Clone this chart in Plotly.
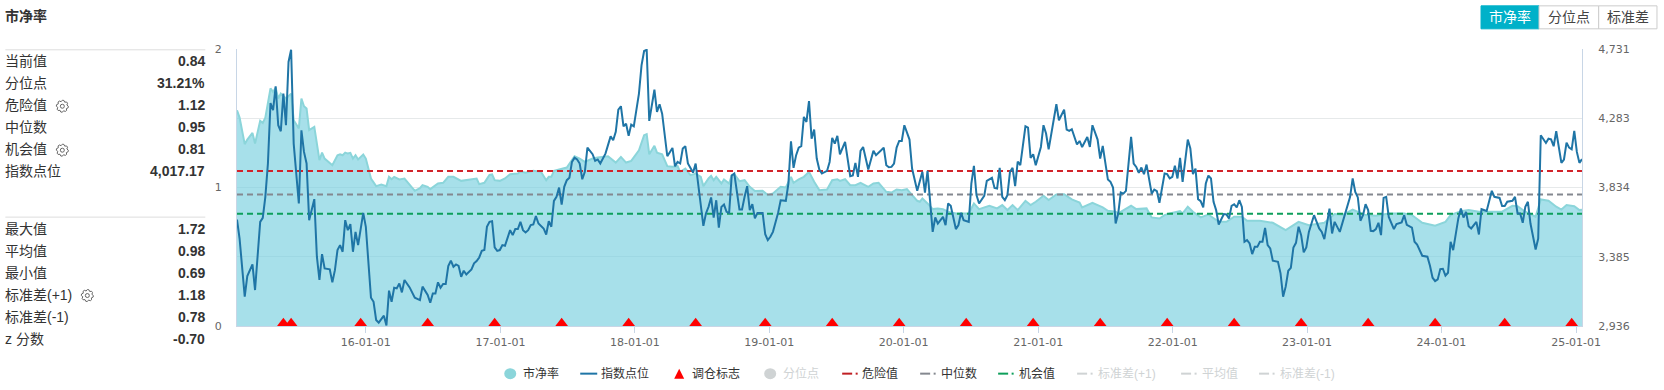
from datetime import date, timedelta
import math
import plotly.graph_objects as go

start_date = date(2015, 1, 16)
end_date = date(2025, 1, 17)

pb_weeks = [0,1,3,4,6,7,9,10,11,13,14,15,16,17,19,21,22,24,25,26,27,28,30,32,33,34,37,39,40,41,42,43,44,45,46,47,49,50,52,54,56,58,59,60,61,63,65,67,69,71,72,74,75,78,80,82,84,87,91,93,94,96,98,99,100,102,104,106,109,110,112,115,118,120,121,122,123,125,128,131,133,135,138,140,144,147,149,151,153,156,158,159,160,162,163,165,167,169,171,172,174,176,178,180,
181,183,184,185,186,188,189,191,192,193,195,197,199,201,204,206,208,211,213,215,216,218,220,222,224,226,229,231,233,234,236,238,240,242,245,247,249,252,254,256,258,260,264,265,266,268,270,272,274,276,279,284,286,288,292,295,297,299,301,303,306,308,310,313,315,318,321,324,327,328,332,336,338,341,342,347,349,353,355,358,360,362,
363,366,367,369,371,374,377,381,384,387,390,392,397,402,407,412,416,422,426,429,433,438,442,447,453,456,460,465,469,471,475,478,482,488,491,495,497,500,504,506,509,512,514,516,519,521,522]
pb_values = [1.558,1.505,1.313,1.346,1.394,1.317,1.481,1.466,1.505,1.716,1.690,1.720,1.642,1.678,1.642,1.678,1.486,1.426,1.642,1.587,1.570,1.414,1.438,1.197,1.252,1.209,1.161,1.233,1.240,1.233,1.252,1.245,1.250,1.209,1.233,1.202,1.238,1.209,1.065,1.010,1.022,1.010,1.077,1.060,1.077,1.058,1.065,1.024,0.976,0.995,1.017,1.005,0.988,1.029,1.034,1.077,1.077,1.048,1.060,1.065,1.024,1.034,1.091,1.094,1.053,1.048,1.065,1.096,1.101,1.115,1.106,1.120,1.113,1.053,1.077,1.077,1.120,1.130,1.144,1.226,1.209,1.185,1.209,1.216,1.226,1.180,1.221,1.180,1.192,1.269,1.378,1.385,1.240,1.301,1.252,1.240,1.154,1.149,1.154,1.113,1.137,1.089,1.101,1.077,
1.010,1.065,1.084,1.053,1.077,1.029,1.058,1.029,1.089,1.096,1.046,1.053,1.005,0.974,0.976,0.945,0.957,1.005,1.000,1.077,1.034,1.058,1.077,1.113,1.041,0.981,0.986,1.053,1.060,1.048,1.060,1.017,1.017,1.034,1.005,1.029,1.034,0.969,0.964,0.986,0.981,0.988,0.904,0.897,0.921,0.885,0.844,0.849,0.844,0.825,0.813,0.813,0.885,0.844,0.868,0.849,0.873,0.837,0.873,0.837,0.904,0.873,0.897,0.940,0.909,0.950,0.952,0.914,0.892,0.856,0.889,0.856,0.832,0.825,0.813,0.868,0.844,0.849,0.784,0.776,0.801,0.813,
0.817,0.829,0.813,0.861,0.825,0.784,0.805,0.752,0.752,0.789,0.789,0.760,0.760,0.745,0.692,0.752,0.728,0.745,0.808,0.801,0.841,0.801,0.796,0.813,0.813,0.801,0.745,0.724,0.752,0.801,0.829,0.837,0.825,0.825,0.825,0.868,0.865,0.825,0.789,0.914,0.904,0.861,0.841,0.873,0.865,0.837,0.840]

index_weeks = [0,1,3,4,6,7,9,10,11,12,13,14,15,16,17,18,19,20,21,22,24,25,26,27,28,30,31,32,33,34,36,37,38,39,40,41,42,43,44,45,46,47,49,50,52,53,54,55,57,58,59,60,61,62,63,64,65,67,69,71,72,74,75,76,77,78,79,80,81,82,83,84,85,86,87,88,89,91,92,93,94,95,96,97,98,99,100,101,102,103,104,106,107,108,109,110,111,112,113,114,115,116,117,119,120,121,122,123,124,125,126,127,128,129,130,131,132,133,134,135,136,138,139,140,141,143,145,146,147,148,149,150,151,152,153,154,156,157,158,159,160,162,163,164,165,167,169,170,171,172,173,174,175,177,178,180,
181,182,183,184,185,186,187,188,189,190,191,192,193,195,196,197,198,199,200,201,202,204,205,206,207,208,210,211,213,214,215,216,217,218,219,220,221,222,223,224,225,226,227,229,230,231,232,233,234,236,238,239,240,241,242,243,245,247,248,250,251,252,253,254,255,256,257,258,259,261,262,264,266,267,268,270,271,272,274,275,276,277,279,280,281,282,284,285,286,287,288,290,291,293,294,295,296,297,298,299,300,301,302,303,304,306,307,308,309,310,312,313,314,315,318,319,321,322,323,324,326,327,328,330,331,332,334,335,336,338,339,340,341,342,343,344,345,347,348,349,350,351,352,353,355,356,357,358,
360,361,362,363,364,365,366,367,369,370,371,372,373,374,375,376,377,378,379,380,381,383,384,385,386,387,388,389,390,391,392,393,394,395,396,397,398,399,400,401,402,404,405,406,407,408,409,410,411,412,413,414,415,416,418,420,421,422,424,425,426,428,430,431,432,433,434,435,436,437,438,439,440,441,442,443,444,445,446,447,449,450,452,453,454,456,457,458,460,462,463,464,465,466,467,468,469,470,471,472,474,475,476,477,478,479,481,482,483,485,487,488,490,491,492,493,495,496,497,498,499,500,501,502,504,505,506,508,509,510,511,512,514,515,516,517,518,519,520,521,522]
index_values = [3626,3503,3126,3260,3335,3169,3611,3637,3773,3989,4381,4334,4489,4237,4198,4442,4237,4647,4726,4118,3730,4204,4064,3989,3622,3758,3385,3234,3402,3309,3303,3219,3298,3428,3460,3417,3622,3557,3596,3417,3546,3460,3669,3579,3119,3093,2975,2958,3003,2940,3165,3093,3184,3180,3212,3154,3234,3186,3119,3104,3191,3137,3087,3147,3147,3219,3184,3208,3208,3324,3359,3320,3335,3326,3255,3294,3270,3303,3342,3357,3380,3423,3428,3579,3611,3615,3445,3423,3428,3460,3456,3557,3525,3564,3564,3611,3557,3542,3557,3590,3594,3648,3600,3568,3529,3615,3579,3747,3773,3833,3723,3838,3881,3896,3999,4027,4015,3989,3887,3935,4092,4049,4006,4015,3989,4053,4165,4140,4194,4338,4360,4230,4247,4168,4241,4230,4442,4625,4718,4726,4265,4467,4323,4373,4312,4036,4090,3971,3999,3989,4086,4101,3989,3930,3989,3730,
3585,3665,3708,3769,3639,3751,3574,3708,3723,3676,3669,3911,3924,3691,3691,3773,3842,3687,3725,3633,3669,3669,3531,3493,3514,3546,3669,3751,3747,3859,4133,3961,4043,4092,4101,4291,4258,4394,4150,4209,4021,3950,3924,3941,3999,4155,4118,4168,4049,4129,3907,3911,3993,3902,4071,4096,3950,4071,4043,4075,4092,3978,3965,3967,3989,4092,4135,4135,4237,4144,3956,3812,3935,3801,3941,3546,3639,3600,3643,3590,3730,3715,3564,3590,3669,3622,3611,3859,3974,3784,3730,3779,3876,3896,3831,3827,3961,3773,3751,3784,3935,3961,3842,4002,3978,4230,4222,4025,4049,3978,4096,4237,4183,4081,4373,4269,4338,4209,4200,4211,4112,4135,4096,4161,4096,4237,4144,4021,4103,3885,3870,3833,3600,3665,3801,3794,3812,4161,3989,3967,3928,3963,3920,3982,3794,3820,3810,3734,
3924,3920,3892,3902,3974,3892,4025,3870,4144,4086,3920,3956,3758,3745,3704,3859,3911,3892,3741,3687,3594,3661,3659,3633,3715,3725,3704,3751,3708,3482,3493,3471,3402,3449,3449,3482,3482,3572,3460,3439,3359,3352,3277,3126,3191,3294,3313,3445,3475,3579,3525,3413,3445,3546,3654,3568,3546,3499,3697,3536,3611,3546,3665,3708,3773,3892,3805,3769,3618,3654,3725,3687,3553,3551,3564,3605,3525,3766,3773,3643,3564,3596,3607,3654,3592,3574,3482,3464,3391,3385,3326,3249,3227,3238,3305,3307,3262,3281,3482,3428,3633,3697,3639,3676,3583,3568,3611,3529,3693,3682,3812,3773,3766,3713,3713,3741,3747,3773,3665,3665,3605,3708,3741,3600,3432,3503,4172,4122,4150,4146,4101,4198,3993,4015,4124,4092,4081,4200,4064,3993,4017]

rebalance_dates = ["2015-05-22","2015-06-12","2015-12-18","2016-06-17","2016-12-16","2017-06-16","2017-12-15","2018-06-15","2018-12-21","2019-06-21","2019-12-20","2020-06-19","2020-12-18","2021-06-18","2021-12-17","2022-06-17","2022-12-16","2023-06-16","2023-12-15","2024-06-21","2024-12-20"]
rebalance_level = 2954

danger_value = 1.12
median_value = 0.95
chance_value = 0.81

left_ticks = [0, 0.5, 1, 1.5, 2]
left_labels = ["0", "", "1", "", "2"]
right_ticks = [2936, 3385, 3834, 4283, 4731]
right_labels = ["2,936", "3,385", "3,834", "4,283", "4,731"]

stats_top = [("当前值", "0.84"), ("分位点", "31.21%"), ("危险值", "1.12"), ("中位数", "0.95"), ("机会值", "0.81"), ("指数点位", "4,017.17")]
stats_bottom = [("最大值", "1.72"), ("平均值", "0.98"), ("最小值", "0.69"), ("标准差(+1)", "1.18"), ("标准差(-1)", "0.78"), ("z 分数", "-0.70")]

FONT = "Liberation Sans, Noto Sans CJK SC, sans-serif"
TEAL = "#00b1c9"; LINE = "#1f75a6"; AXIS = "#c8d6e6"; GRID = "#e6e9ea"
RED = "#d2232a"; GREY = "#84888f"; GREEN = "#0e9f5b"; OFF = "#cfd3d4"

L, R, T, B = 236.7, 1582.0, 48.7, 326.0
def px(x): return (x - L) / (R - L)
def py(y): return (B - y) / (B - T)
def to_dates(weeks): return [start_date + timedelta(days=7 * w) for w in weeks]

fig = go.Figure()
fig.add_trace(go.Scatter(x=to_dates(pb_weeks), y=pb_values, name="市净率", mode="lines", yaxis="y",
                         line=dict(color="#8bd5da", width=2), fill="tozeroy", fillcolor="rgba(120,208,222,0.65)"))
for name, val, col in [("危险值", danger_value, RED), ("中位数", median_value, GREY), ("机会值", chance_value, GREEN)]:
    fig.add_trace(go.Scatter(x=[start_date, end_date], y=[val, val], name=name, mode="lines", yaxis="y",
                             line=dict(color=col, width=2, dash="6px,4px")))
fig.add_trace(go.Scatter(x=to_dates(index_weeks), y=index_values, name="指数点位", mode="lines", yaxis="y2",
                         line=dict(color=LINE, width=2)))
fig.add_trace(go.Scatter(x=rebalance_dates, y=[rebalance_level] * len(rebalance_dates), name="调仓标志", mode="markers", yaxis="y2",
                         marker=dict(symbol="triangle-up", color="#ff0000", size=11)))

ann = []; shapes = []
def text(x, y, s, size=14, color="#333333", anchor="left", bold=False, family=FONT):
    ann.append(dict(x=px(x), y=py(y), xref="paper", yref="paper", text=f"<b>{s}</b>" if bold else s, showarrow=False,
                    xanchor=anchor, yanchor="middle", font=dict(size=size, color=color, family=family), borderpad=0, borderwidth=0))

text(5, 16, "市净率", bold=True)
for yy in (49.5, 217):
    shapes.append(dict(type="line", xref="paper", yref="paper", x0=px(5), x1=px(205), y0=py(yy), y1=py(yy), line=dict(color="#dddddd", width=1)))
for i, (k, v) in enumerate(stats_top):
    text(5, 61 + 22 * i, k); text(205, 61 + 22 * i, v, anchor="right", bold=True)
for i, (k, v) in enumerate(stats_bottom):
    text(5, 229 + 22 * i, k); text(205, 229 + 22 * i, v, anchor="right", bold=True)

def gear(cx, cy):
    pts = []
    for k in range(24):
        a = 2 * math.pi * k / 24
        r = 6 if k % 3 != 2 else 4.7
        pts.append((cx + r * math.cos(a), cy + r * math.sin(a)))
    path = "M " + " L ".join(f"{px(a)} {py(b)}" for a, b in pts) + " Z"
    shapes.append(dict(type="path", xref="paper", yref="paper", path=path, line=dict(color="#666666", width=1)))
    shapes.append(dict(type="circle", xref="paper", yref="paper", x0=px(cx - 2), x1=px(cx + 2), y0=py(cy - 2), y1=py(cy + 2),
                       line=dict(color="#666666", width=1)))
for gx, gy in [(62, 106), (62, 150), (87, 295.5)]:
    gear(gx, gy)

# selector buttons
for i, (x0, x1, lab) in enumerate([(1481, 1539, "市净率"), (1539, 1598.7, "分位点"), (1598.7, 1657, "标准差")]):
    shapes.append(dict(type="rect", xref="paper", yref="paper", x0=px(x0), x1=px(x1), y0=py(5.5), y1=py(28.5),
                       fillcolor=TEAL if i == 0 else "#ffffff", line=dict(color=TEAL if i == 0 else "#cccccc", width=1)))
    text((x0 + x1) / 2, 17, lab, size=14, color="#ffffff" if i == 0 else "#444444", anchor="center")

# legend row
LY = 373.7
def leg_text(x, s, on=True): text(x, LY, s, size=12, color="#333333" if on else OFF)
def leg_dash(x, col):
    shapes.append(dict(type="line", xref="paper", yref="paper", x0=px(x), x1=px(x + 10), y0=py(LY), y1=py(LY), line=dict(color=col, width=2)))
    shapes.append(dict(type="line", xref="paper", yref="paper", x0=px(x + 13.5), x1=px(x + 15.5), y0=py(LY), y1=py(LY), line=dict(color=col, width=2)))
def leg_dot(x, col):
    shapes.append(dict(type="circle", xref="paper", yref="paper", x0=px(x - 6), x1=px(x + 6), y0=py(LY - 5.5), y1=py(LY + 5.5), fillcolor=col, line=dict(width=0)))
leg_dot(510, "#8bd5da"); leg_text(523, "市净率")
shapes.append(dict(type="line", xref="paper", yref="paper", x0=px(580), x1=px(597), y0=py(LY), y1=py(LY), line=dict(color=LINE, width=2)))
leg_text(601, "指数点位")
shapes.append(dict(type="path", xref="paper", yref="paper", fillcolor="#ff0000", line=dict(width=0),
                   path=f"M {px(674)} {py(LY+5)} L {px(684)} {py(LY+5)} L {px(679)} {py(LY-5)} Z"))
leg_text(692, "调仓标志")
leg_dot(770, OFF); leg_text(783, "分位点", False)
leg_dash(842, "#c01f24"); leg_text(862, "危险值")
leg_dash(920, GREY); leg_text(941, "中位数")
leg_dash(998, GREEN); leg_text(1019, "机会值")
leg_dash(1077, OFF); leg_text(1098, "标准差(+1)", False)
leg_dash(1181, OFF); leg_text(1202, "平均值", False)
leg_dash(1259, OFF); leg_text(1280, "标准差(-1)", False)

tick_font = dict(size=11, color="#666666", family="DejaVu Sans, sans-serif")
fig.update_layout(
    width=1664, height=390, autosize=False, showlegend=False,
    margin=dict(l=L, r=1664 - R, t=T, b=390 - B, pad=0),
    paper_bgcolor="#ffffff", plot_bgcolor="#ffffff", annotations=ann, shapes=shapes,
    xaxis=dict(type="date", range=[start_date, end_date], tick0="2016-01-01", dtick="M12", tickformat="%y-%m-%d",
               showgrid=False, zeroline=False, showline=True, linecolor=AXIS, linewidth=1, ticks="outside", ticklen=6,
               tickcolor=AXIS, tickfont=tick_font),
    yaxis=dict(range=[0, 2], tickvals=left_ticks, ticktext=left_labels, showgrid=False, zeroline=False, showline=True,
               linecolor=AXIS, linewidth=1, ticks="", tickfont=tick_font, ticklabelstandoff=12),
    yaxis2=dict(range=[2936, 4731], tickvals=right_ticks, ticktext=right_labels, overlaying="y", side="right", showgrid=True,
                gridcolor=GRID, gridwidth=1, zeroline=False, showline=True, linecolor=AXIS, linewidth=1, ticks="",
                tickfont=tick_font, ticklabelstandoff=13),
)
fig.write_html("out.html", config=dict(displayModeBar=False),
               post_script="document.body.style.margin='0';document.body.style.overflow='hidden';")
